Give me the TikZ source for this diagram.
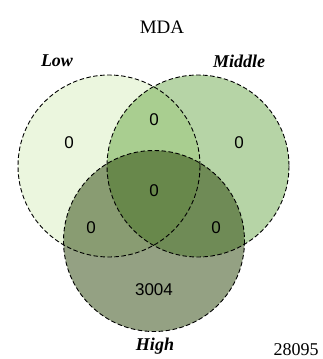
\documentclass[tikz,border=0pt]{standalone}
\usepackage{fontspec}
\setmainfont{Liberation Serif}
\newfontfamily\countfont{Liberation Sans}
\usetikzlibrary{positioning}

\definecolor{lowgreen}{RGB}{235,246,222}
\definecolor{midgreen}{RGB}{46,132,0}
\definecolor{highgreen}{RGB}{41,67,7}

\begin{document}
\begin{tikzpicture}[
  x=1pt, y=-1pt,
  set/.style={draw=black, dash pattern=on 4.5pt off 2.5pt, line width=.9pt},
  count/.style={font=\countfont\fontsize{17}{17}\selectfont},
  setname/.style={font=\bfseries\itshape\fontsize{18}{18}\selectfont},
  ]
  \useasboundingbox (0,0) rectangle (323,359);

  \coordinate (low) at (109,166);
  \coordinate (mid) at (198,166);
  \coordinate (high) at (154,241);

  % the three sets, fills first and the dashed rims on top
  \fill[lowgreen] (low) circle[radius=91];
  \fill[midgreen, fill opacity=.35] (mid) circle[radius=91];
  \fill[highgreen, fill opacity=.5] (high) circle[radius=90.5];
  \foreach \c/\r in {low/91,mid/91,high/90.5}
    \draw[set] (\c) circle[radius=\r];

  \node[font=\fontsize{19}{19}\selectfont] (title) at (162,27) {MDA};
  \node[setname] (lowname) at (57,61) {Low};
  \node[setname] (midname) at (239,61) {Middle};
  \node[setname] (highname) at (155,346) {High};
  \node[font=\fontsize{18}{18}\selectfont] (total) at (296,350) {28095};

  \node[count] (nlow) at (69,143) {0};
  \node[count] (nlowmid) at (154,120) {0};
  \node[count] (nmid) at (239,143) {0};
  \node[count] (nall) at (154,191) {0};
  \node[count] (nlowhigh) at (91,228) {0};
  \node[count] (nmidhigh) at (216,228) {0};
  \node[count] (nhigh) at (154,290) {3004};
\end{tikzpicture}
\end{document}
